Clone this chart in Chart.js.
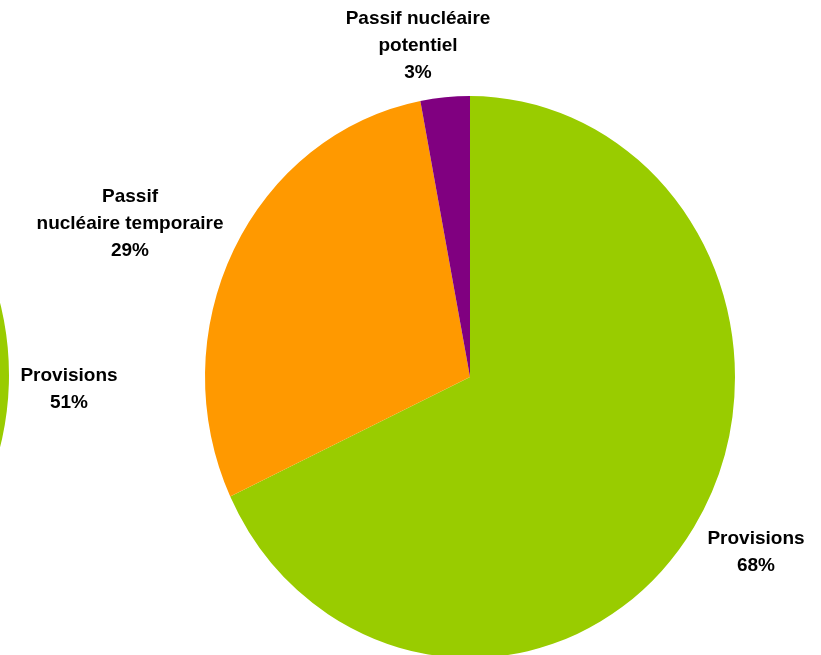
<!DOCTYPE html>
<html>
<head>
<meta charset="utf-8">
<script src="https://cdn.jsdelivr.net/npm/chart.js@4/dist/chart.umd.min.js"></script>
<style>
  html, body { margin: 0; padding: 0; background: #fff; overflow: hidden; }
  body { width: 821px; height: 655px; position: relative; }
  canvas { position: absolute; }
  #gauche { left: -521px; top: 110px; }
  #principal { left: 0; top: 0; }
</style>
</head>
<body>
<canvas id="gauche" width="530" height="530"></canvas>
<canvas id="principal" width="821" height="655"></canvas>
<script>
// données du camembert principal
const categories = ['Provisions', 'Passif nucléaire temporaire', 'Passif nucléaire potentiel'];
const valeurs = [68, 29, 3];
const couleurs = ['#99CC00', '#FF9900', '#800080'];

// camembert voisin, coupé par le bord gauche (seule la part "Provisions" est visible)
const categoriesGauche = ['Provisions', 'Autres'];
const valeursGauche = [51, 49];
const couleursGauche = ['#99CC00', '#FF9900'];

// Excel dessine le camembert un peu étiré en hauteur
const etirement = {
  id: 'etirement',
  beforeDatasetsDraw(chart, args, opts) {
    const arc = chart.getDatasetMeta(0).data[0];
    const ctx = chart.ctx;
    ctx.save();
    ctx.translate(arc.x, arc.y);
    ctx.scale(1, opts.sy);
    ctx.translate(-arc.x, -arc.y);
  },
  afterDatasetsDraw(chart) {
    chart.ctx.restore();
  }
};

// étiquettes "catégorie / pourcentage" placées comme dans l'original
const etiquettes = {
  id: 'etiquettes',
  afterDraw(chart, args, opts) {
    const ctx = chart.ctx;
    ctx.save();
    ctx.font = 'bold 19px "Liberation Sans", Arial, sans-serif';
    ctx.fillStyle = '#000';
    ctx.textAlign = 'center';
    ctx.textBaseline = 'middle';
    opts.items.forEach(function (it) {
      const data = it.source.data;
      const mots = data.labels[it.index].split(' ');
      const total = data.datasets[0].data.reduce((a, b) => a + b, 0);
      const pct = Math.round(data.datasets[0].data[it.index] / total * 100) + '%';
      const lignes = [mots.slice(0, it.coupure).join(' ')];
      if (mots.length > it.coupure) lignes.push(mots.slice(it.coupure).join(' '));
      lignes.push(pct);
      const y0 = it.y - (lignes.length - 1) * opts.interligne / 2;
      lignes.forEach((l, i) => ctx.fillText(l, it.x, y0 + i * opts.interligne));
    });
    ctx.restore();
  }
};

const optionsCommunes = {
  responsive: false,
  animation: false,
  events: [],
  plugins: {
    legend: { display: false },
    tooltip: { enabled: false },
    etirement: { sy: 1.06 }
  }
};

const chartGauche = new Chart(document.getElementById('gauche'), {
  type: 'pie',
  data: {
    labels: categoriesGauche,
    datasets: [{ data: valeursGauche, backgroundColor: couleursGauche, borderWidth: 0, clip: false }]
  },
  options: optionsCommunes,
  plugins: [etirement]
});

const dataPrincipal = {
  labels: categories,
  datasets: [{ data: valeurs, backgroundColor: couleurs, borderWidth: 0, clip: false }]
};

new Chart(document.getElementById('principal'), {
  type: 'pie',
  data: dataPrincipal,
  options: {
    responsive: false,
    animation: false,
    events: [],
    layout: { padding: { left: 205, right: 86, top: 112, bottom: 13 } },
    plugins: {
      legend: { display: false },
      tooltip: { enabled: false },
      etirement: { sy: 1.06 },
      etiquettes: {
        interligne: 27,
        items: [
          { source: chartGauche, index: 0, coupure: 1, x: 69, y: 389 },
          { source: { data: dataPrincipal }, index: 0, coupure: 1, x: 756, y: 552 },
          { source: { data: dataPrincipal }, index: 1, coupure: 1, x: 130, y: 224 },
          { source: { data: dataPrincipal }, index: 2, coupure: 2, x: 418, y: 46 }
        ]
      }
    }
  },
  plugins: [etirement, etiquettes]
});
</script>
</body>
</html>
